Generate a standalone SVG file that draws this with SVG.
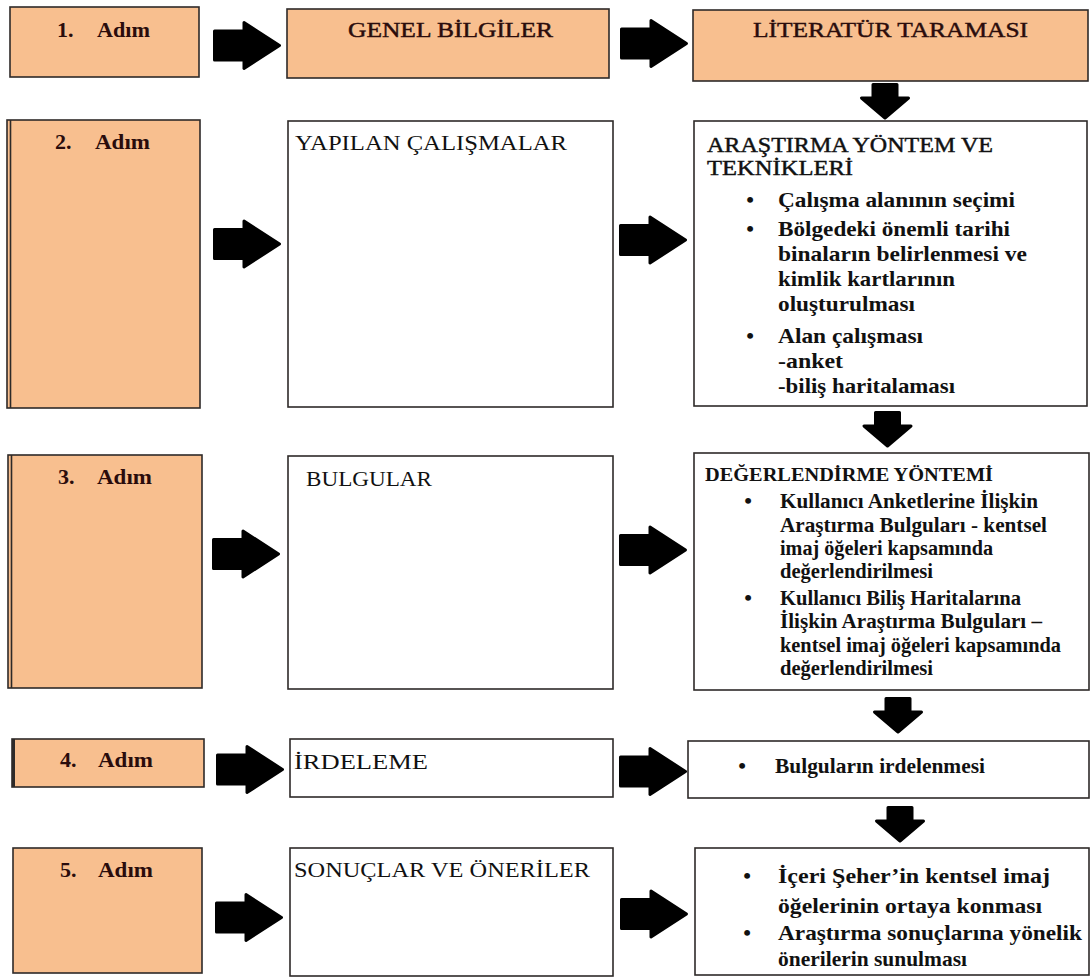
<svg xmlns="http://www.w3.org/2000/svg" xmlns:xlink="http://www.w3.org/1999/xlink" width="1091" height="979" viewBox="0 0 1091 979">
<style>
.bg{fill:#ffffff}
.pb{fill:#f8bf8f;stroke:#2e2a28;stroke-width:1.6}
.wb{fill:#ffffff;stroke:#2e2a28;stroke-width:1.6}
.edge{stroke:#2e2a28;stroke-width:1.6;fill:none}
.step{font-family:"Liberation Serif","Times New Roman",serif;font-weight:bold;font-size:22px;fill:#2a0c0c}
.ttl{font-family:"Liberation Serif","Times New Roman",serif;font-size:22px;fill:#2a0c0c;stroke:#2a0c0c;stroke-width:0.45}
.hd{font-family:"Liberation Serif","Times New Roman",serif;font-size:22px;fill:#111111}
.hdb{font-family:"Liberation Serif","Times New Roman",serif;font-size:22px;fill:#111111;stroke:#111111;stroke-width:0.45}
.bl{font-family:"Liberation Serif","Times New Roman",serif;font-weight:bold;font-size:22px;fill:#111111}
.bs{font-family:"Liberation Serif","Times New Roman",serif;font-weight:bold;font-size:20px;fill:#111111}
.bt{font-family:"Liberation Serif","Times New Roman",serif;font-weight:bold;font-size:19px;fill:#111111}
.dot{font-family:"Liberation Serif","Times New Roman",serif;font-weight:bold;font-size:22px;fill:#111111;text-anchor:middle}
</style>
<defs>
<path id="ra" d="M1.5,-14.5 H31 V-23 L66.5,0 L31,23 V14.5 H1.5 Z" fill="#000000" stroke="#000000" stroke-width="3" stroke-linejoin="round"/>
<path id="da" d="M-12,1.5 H12 V15 H23.5 L0,35 L-23.5,15 H-12 Z" fill="#000000" stroke="#000000" stroke-width="3" stroke-linejoin="round"/>
</defs>
<rect class="bg" x="0" y="0" width="1091" height="979"/>

<g id="connectors">
<use xlink:href="#ra" transform="translate(213,45.5)"/>
<use xlink:href="#ra" transform="translate(620,43.5)"/>
<use xlink:href="#da" transform="translate(885,83)"/>
<use xlink:href="#ra" transform="translate(213,244)"/>
<use xlink:href="#ra" transform="translate(619,240)"/>
<use xlink:href="#da" transform="translate(887.5,411)"/>
<use xlink:href="#ra" transform="translate(212,554)"/>
<use xlink:href="#ra" transform="translate(619,550)"/>
<use xlink:href="#da" transform="translate(898,697)"/>
<use xlink:href="#ra" transform="translate(216,769.5)"/>
<use xlink:href="#ra" transform="translate(619,771.5)"/>
<use xlink:href="#da" transform="translate(900,806)"/>
<use xlink:href="#ra" transform="translate(215,917.5)"/>
<use xlink:href="#ra" transform="translate(620,914)"/>
</g>

<g id="adim1">
<rect class="pb" x="10" y="7" width="189" height="70"/>
<text class="step" x="57" y="37">1.</text>
<text class="step" x="97" y="37" textLength="53" lengthAdjust="spacingAndGlyphs">Adım</text>
</g>
<g id="genel-bilgiler">
<rect class="pb" x="287" y="9" width="322" height="69"/>
<text class="ttl" x="348" y="37" textLength="205" lengthAdjust="spacingAndGlyphs">GENEL BİLGİLER</text>
</g>
<g id="literatur-taramasi">
<rect class="pb" x="693" y="10" width="395" height="71"/>
<text class="ttl" x="753" y="37" textLength="275" lengthAdjust="spacingAndGlyphs">LİTERATÜR TARAMASI</text>
</g>

<g id="adim2">
<rect class="pb" x="7" y="120" width="193" height="288"/>
<line class="edge" x1="10.5" y1="120" x2="10.5" y2="408"/>
<text class="step" x="55" y="149">2.</text>
<text class="step" x="95" y="149" textLength="55" lengthAdjust="spacingAndGlyphs">Adım</text>
</g>
<g id="yapilan-calismalar">
<rect class="wb" x="288" y="121" width="325" height="286"/>
<text class="hd" x="295" y="150" textLength="272" lengthAdjust="spacingAndGlyphs">YAPILAN ÇALIŞMALAR</text>
</g>
<g id="arastirma-yontem">
<rect class="wb" x="694" y="121" width="393" height="285"/>
<text class="hdb" x="707" y="152" textLength="286" lengthAdjust="spacingAndGlyphs">ARAŞTIRMA YÖNTEM VE</text>
<text class="hdb" x="707" y="175" textLength="146" lengthAdjust="spacingAndGlyphs">TEKNİKLERİ</text>
<text class="dot" x="750" y="207">•</text>
<text class="bl" x="778" y="207" textLength="237" lengthAdjust="spacingAndGlyphs">Çalışma alanının seçimi</text>
<text class="dot" x="750" y="236">•</text>
<text class="bl" x="778" y="236" textLength="232" lengthAdjust="spacingAndGlyphs">Bölgedeki önemli tarihi</text>
<text class="bl" x="778" y="261" textLength="249" lengthAdjust="spacingAndGlyphs">binaların belirlenmesi ve</text>
<text class="bl" x="778" y="286" textLength="177" lengthAdjust="spacingAndGlyphs">kimlik kartlarının</text>
<text class="bl" x="778" y="311" textLength="137" lengthAdjust="spacingAndGlyphs">oluşturulması</text>
<text class="dot" x="750" y="343">•</text>
<text class="bl" x="778" y="343" textLength="145" lengthAdjust="spacingAndGlyphs">Alan çalışması</text>
<text class="bl" x="778" y="368" textLength="65" lengthAdjust="spacingAndGlyphs">-anket</text>
<text class="bl" x="778" y="393" textLength="177" lengthAdjust="spacingAndGlyphs">-biliş haritalaması</text>
</g>

<g id="adim3">
<rect class="pb" x="8" y="455" width="194" height="233"/>
<line class="edge" x1="11.5" y1="455" x2="11.5" y2="688"/>
<text class="step" x="58" y="484">3.</text>
<text class="step" x="97" y="484" textLength="55" lengthAdjust="spacingAndGlyphs">Adım</text>
</g>
<g id="bulgular">
<rect class="wb" x="288" y="456" width="325" height="233"/>
<text class="hd" x="306" y="486" textLength="126" lengthAdjust="spacingAndGlyphs">BULGULAR</text>
</g>
<g id="degerlendirme-yontemi">
<rect class="wb" x="694" y="453" width="395" height="237"/>
<text class="bt" x="705" y="481" textLength="288" lengthAdjust="spacingAndGlyphs">DEĞERLENDİRME YÖNTEMİ</text>
<text class="dot" x="748" y="508">•</text>
<text class="bs" x="780" y="508" textLength="258" lengthAdjust="spacingAndGlyphs">Kullanıcı Anketlerine İlişkin</text>
<text class="bs" x="780" y="532" textLength="267" lengthAdjust="spacingAndGlyphs">Araştırma Bulguları - kentsel</text>
<text class="bs" x="780" y="555" textLength="213" lengthAdjust="spacingAndGlyphs">imaj öğeleri kapsamında</text>
<text class="bs" x="780" y="578" textLength="153" lengthAdjust="spacingAndGlyphs">değerlendirilmesi</text>
<text class="dot" x="748" y="605">•</text>
<text class="bs" x="780" y="605" textLength="241" lengthAdjust="spacingAndGlyphs">Kullanıcı Biliş Haritalarına</text>
<text class="bs" x="780" y="628" textLength="262" lengthAdjust="spacingAndGlyphs">İlişkin Araştırma Bulguları –</text>
<text class="bs" x="780" y="652" textLength="281" lengthAdjust="spacingAndGlyphs">kentsel imaj öğeleri kapsamında</text>
<text class="bs" x="780" y="675" textLength="153" lengthAdjust="spacingAndGlyphs">değerlendirilmesi</text>
</g>

<g id="adim4">
<rect class="pb" x="12" y="739" width="192" height="48"/>
<line x1="13.5" y1="739" x2="13.5" y2="787" stroke="#2e2a28" stroke-width="3"/>
<text class="step" x="60" y="767">4.</text>
<text class="step" x="98" y="767" textLength="55" lengthAdjust="spacingAndGlyphs">Adım</text>
</g>
<g id="irdeleme">
<rect class="wb" x="290" y="739" width="323" height="58"/>
<text class="hd" x="294" y="769" textLength="134" lengthAdjust="spacingAndGlyphs">İRDELEME</text>
</g>
<g id="bulgularin-irdelenmesi">
<rect class="wb" x="688" y="741" width="401" height="57"/>
<text class="dot" x="742" y="773">•</text>
<text class="bl" x="775" y="773" font-size="21" textLength="210" lengthAdjust="spacingAndGlyphs">Bulguların irdelenmesi</text>
</g>

<g id="adim5">
<rect class="pb" x="13" y="848" width="189" height="125"/>
<text class="step" x="60" y="877">5.</text>
<text class="step" x="98" y="877" textLength="55" lengthAdjust="spacingAndGlyphs">Adım</text>
</g>
<g id="sonuclar-oneriler">
<rect class="wb" x="290" y="848" width="323" height="128"/>
<text class="hd" x="294" y="877" textLength="296" lengthAdjust="spacingAndGlyphs">SONUÇLAR VE ÖNERİLER</text>
</g>
<g id="sonuc-maddeleri">
<rect class="wb" x="695" y="848" width="394" height="127"/>
<text class="dot" x="747" y="883">•</text>
<text class="bl" x="778" y="883" textLength="272" lengthAdjust="spacingAndGlyphs">İçeri Şeher’in kentsel imaj</text>
<text class="bl" x="778" y="913" textLength="264" lengthAdjust="spacingAndGlyphs">öğelerinin ortaya konması</text>
<text class="dot" x="747" y="940">•</text>
<text class="bl" x="778" y="940" textLength="304" lengthAdjust="spacingAndGlyphs">Araştırma sonuçlarına yönelik</text>
<text class="bl" x="778" y="966" textLength="189" lengthAdjust="spacingAndGlyphs">önerilerin sunulması</text>
</g>
</svg>
